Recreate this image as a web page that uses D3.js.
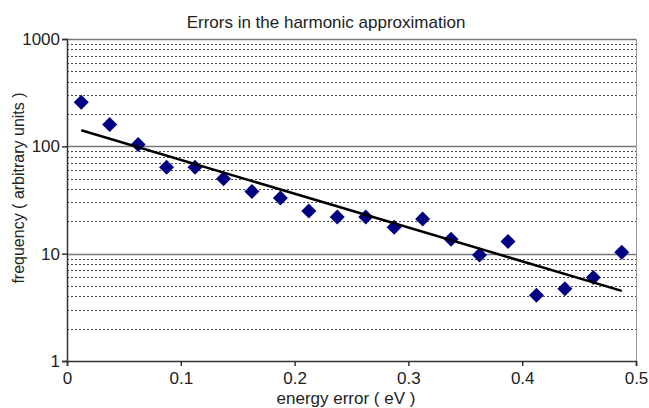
<!DOCTYPE html>
<html>
<head>
<meta charset="utf-8">
<script src="https://cdn.jsdelivr.net/npm/d3@7"></script>
<style>
  body { margin: 0; background: #fff; }
  text { font-family: "Liberation Sans", Arial, sans-serif; fill: #222; }
</style>
</head>
<body>
<svg id="chart" width="649" height="408"></svg>
<script>
// bin centres (eV) and counts
var energy = [0.0125, 0.0375, 0.0625, 0.0875, 0.1125, 0.1375, 0.1625, 0.1875, 0.2125, 0.2375,
              0.2625, 0.2875, 0.3125, 0.3375, 0.3625, 0.3875, 0.4125, 0.4375, 0.4625, 0.4875];
var freq = [257, 160, 104, 64, 64, 50, 38, 33, 25, 22,
            22, 17.6, 21, 13.6, 9.7, 13, 4.1, 4.7, 6.0, 10.3];
// exponential trendline end points
var trendX = [0.0125, 0.4875];
var trendY = [141, 4.5];
var xTicks = [0, 0.1, 0.2, 0.3, 0.4, 0.5];
var yTicks = [1, 10, 100, 1000];

var plotL = 67, plotR = 636, plotT = 39, plotB = 361;

var svg = d3.select("#chart");

var x = d3.scaleLinear().domain([0, 0.5]).range([plotL, plotR]);
var y = d3.scaleLog().domain([1, 1000]).range([plotB, plotT]);

// minor dotted gridlines
var minor = [];
[1, 10, 100].forEach(function(d) {
  for (var k = 2; k <= 9; k++) minor.push(d * k);
});
svg.append("g")
  .selectAll("line")
  .data(minor)
  .join("line")
  .attr("x1", plotL).attr("x2", plotR)
  .attr("y1", function(d) { return Math.round(y(d)) + 0.5; })
  .attr("y2", function(d) { return Math.round(y(d)) + 0.5; })
  .attr("stroke", "#444")
  .attr("stroke-width", 1.2)
  .attr("stroke-dasharray", "2,2");

// major gridlines
svg.append("g")
  .selectAll("line")
  .data([10, 100, 1000])
  .join("line")
  .attr("x1", plotL).attr("x2", plotR)
  .attr("y1", function(d) { return Math.round(y(d)) + 0.5; })
  .attr("y2", function(d) { return Math.round(y(d)) + 0.5; })
  .attr("stroke", "#777")
  .attr("stroke-width", 1.5);

// right border
svg.append("line")
  .attr("x1", plotR + 0.5).attr("x2", plotR + 0.5)
  .attr("y1", plotT).attr("y2", plotB)
  .attr("stroke", "#999");

// axes
var xAxis = svg.append("g")
  .attr("transform", "translate(0," + plotB + ")")
  .call(d3.axisBottom(x).tickValues(xTicks).tickSize(5).tickPadding(6)
    .tickFormat(function(d) { return d === 0 ? "0" : d3.format(".1f")(d); }));
var yAxis = svg.append("g")
  .attr("transform", "translate(" + plotL + ",0)")
  .call(d3.axisLeft(y).tickValues(yTicks).tickSize(5).tickPadding(2)
    .tickFormat(d3.format("d")));
[xAxis, yAxis].forEach(function(a) {
  a.select(".domain").attr("stroke", "#333").attr("stroke-width", 1.5);
  a.selectAll(".tick line").attr("stroke", "#333").attr("stroke-width", 1.5);
  a.selectAll("text").style("font-size", "17px").attr("fill", "#222")
    .style("font-family", "'Liberation Sans', Arial, sans-serif");
});

// data points
svg.append("g")
  .selectAll("path")
  .data(energy)
  .join("path")
  .attr("d", "M0,-7.5L7.5,0L0,7.5L-7.5,0Z")
  .attr("transform", function(d, i) { return "translate(" + x(d) + "," + y(freq[i]) + ")"; })
  .attr("fill", "#000080");

// trendline
var line = d3.line()
  .x(function(d, i) { return x(trendX[i]); })
  .y(function(d) { return y(d); });
svg.append("path")
  .attr("d", line(trendY))
  .attr("fill", "none")
  .attr("stroke", "#000")
  .attr("stroke-width", 2.5);

svg.append("text")
  .attr("x", 326).attr("y", 28)
  .attr("text-anchor", "middle")
  .style("font-size", "17px")
  .text("Errors in the harmonic approximation");

svg.append("text")
  .attr("x", 346).attr("y", 404)
  .attr("text-anchor", "middle")
  .style("font-size", "17px")
  .text("energy error ( eV )");

svg.append("text")
  .attr("transform", "translate(24,188) rotate(-90)")
  .attr("text-anchor", "middle")
  .style("font-size", "16px")
  .text("frequency ( arbitrary units )");
</script>
</body>
</html>
